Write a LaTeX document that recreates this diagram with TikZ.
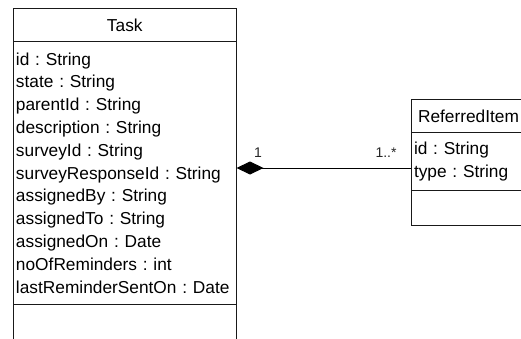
\documentclass[tikz,border=0pt]{standalone}
\usepackage{fontspec}
\setmainfont{Liberation Sans}
\usetikzlibrary{arrows.meta}
\frenchspacing
\begin{document}
\begin{tikzpicture}[x=1pt,y=-1pt,line width=1pt,
  classbox/.style={draw=black!90,anchor=north west,inner sep=0pt,outer sep=0pt,
    font=\fontsize{17.3}{22.8}\selectfont\frenchspacing},
  attrbox/.style={classbox,align=left,inner xsep=3pt},
  mult/.style={font=\fontsize{14}{16}\selectfont,text=black!85,inner sep=0pt}]
\useasboundingbox (0,0) rectangle (521,339);
\clip (0,0) rectangle (521,339);
% Task
\node[classbox,minimum width=223.5pt,minimum height=33.4pt] (taskhead) at (13,8.3) {Task};
\node[attrbox,text width=217.5pt,minimum height=262.3pt] (taskattr) at (13,41.7) {id : String\\state : String\\parentId : String\\description : String\\surveyId : String\\surveyResponseId : String\\assignedBy : String\\assignedTo : String\\assignedOn : Date\\noOfReminders : int\\lastReminderSentOn : Date};
\node[classbox,minimum width=223.5pt,minimum height=50pt] (taskops) at (13,304) {};
% ReferredItem
\node[classbox,minimum width=115pt,minimum height=33pt] (refhead) at (411,100) {ReferredItem};
\node[attrbox,text width=109pt,minimum height=57pt] (refattr) at (411,133) {id : String\\type : String};
\node[classbox,minimum width=115pt,minimum height=35pt] (refops) at (411,190) {};
% association
\coordinate (assocR) at (411,168);
\draw[{Diamond[length=27pt,width=13pt]}-] (assocR -| taskattr.east) -- (assocR);
\node[mult] (m1) at (258,153) {1};
\node[mult] (m2) at (386,153) {1..*};
\end{tikzpicture}
\end{document}
